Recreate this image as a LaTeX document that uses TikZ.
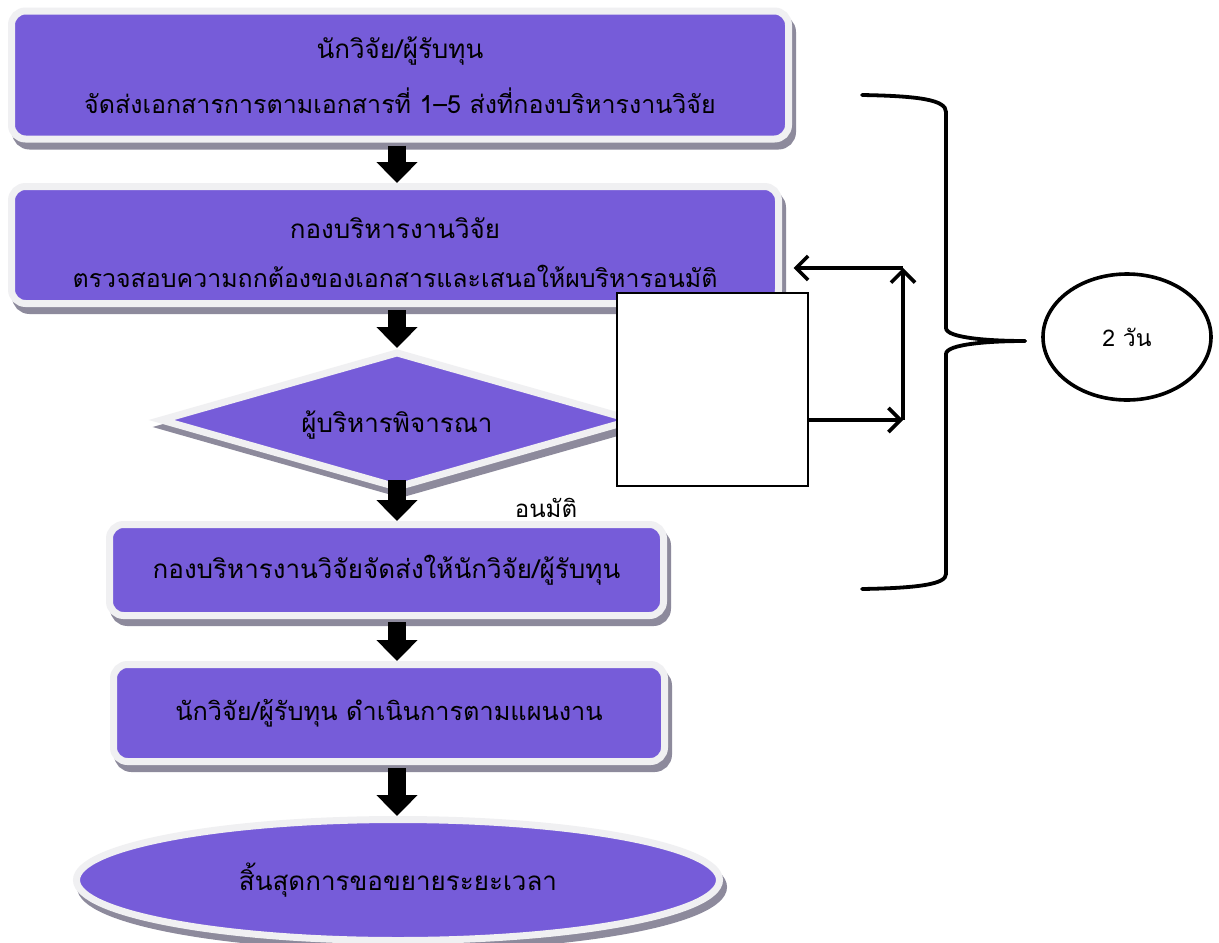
\documentclass[tikz,border=0pt]{standalone}
\usepackage{fontspec}
\newfontfamily\thaifont[Script=Thai]{Loma}
\usetikzlibrary{shapes.geometric,shadows,arrows.meta,calc}
\definecolor{vpurple}{RGB}{118,92,217}
\definecolor{vborder}{RGB}{240,240,242}
\definecolor{vshadow}{RGB}{141,138,156}
\tikzset{
  fancy/.style={fill=vpurple, draw=vborder, line width=7pt, inner sep=0pt, align=center,
    general shadow={shadow xshift=4pt, shadow yshift=-7pt, fill=vshadow, draw=vshadow, line width=7pt},
    font=\thaifont\fontsize{26}{55}\selectfont},
  fancybox/.style={fancy, rectangle, rounded corners=14pt},
  blockarrow/.style={draw=black, line width=18pt, -{Triangle[length=21pt,width=40pt]}},
  thinarrow/.style={draw=black, line width=3.6pt, -{Straight Barb[length=12pt,width=24pt,line width=3.6pt]}},
  bracestyle/.style={draw=black, line width=3.8pt, line cap=round},
  whitebox/.style={draw=black, line width=1.6pt, fill=white, rectangle, inner sep=0pt},
  plain/.style={font=\thaifont\fontsize{24}{28}\selectfont, inner sep=0pt}
}
\newcommand{\fsA}{\fontsize{25}{55}\selectfont}
\newcommand{\fsB}{\fontsize{24.9}{55}\selectfont}
\begin{document}
\begin{tikzpicture}[x=1pt,y=-1pt]
\useasboundingbox[fill=white] (0,0) rectangle (1219,943);
% flow boxes
\node[fancybox, minimum width=777pt, minimum height=128pt] (b1) at (400,75)
  {นักวิจัย/ผู้รับทุน\\{\fsA จัดส่งเอกสารการตามเอกสารที่ 1–5 ส่งที่กองบริหารงานวิจัย}};
\node[fancybox, minimum width=767pt, minimum height=117pt, align=none] (b2) at (395,245)
  {\raisebox{-13pt}[30pt][30pt]{\begin{tabular}{@{}c@{}}กองบริหารงานวิจัย\\[-6pt]{\fsB ตรวจสอบความถกต้องของเอกสารและเสนอให้ผบริหารอนมัติ}\end{tabular}}};
\node[fancy, diamond, aspect=3.4, minimum width=474pt, minimum height=137pt, align=none,
  text height=24pt, text depth=0pt] (dia) at (397,420)
  {ผู้บริหารพิจารณา};
\node[whitebox, minimum width=191pt, minimum height=193pt] (wb) at (712.5,389.5) {};
\node[fancybox, minimum width=554pt, minimum height=91pt] (b3) at (386.5,570)
  {กองบริหารงานวิจัยจัดส่งให้นักวิจัย/ผู้รับทุน};
\node[fancybox, minimum width=551pt, minimum height=97pt, font=\thaifont\fontsize{25.3}{30}\selectfont] (b4) at (389,713)
  {นักวิจัย/ผู้รับทุน ดำเนินการตามแผนงาน};
\node[fancy, ellipse, minimum width=643pt, minimum height=121pt] (end) at (398,880)
  {สิ้นสุดการขอขยายระยะเวลา};
\node[plain] (lab) at (546,508) {อนมัติ};
\node[draw=black, line width=3.6pt, ellipse, minimum width=168pt, minimum height=126pt,
  font=\thaifont\fontsize{23}{26}\selectfont] (days) at (1127,337) {2 วัน};
% block arrows
\draw[blockarrow, shorten <=3pt] (b1.south -| dia) -- (b2.north -| dia);
\draw[blockarrow, shorten <=3pt] (b2.south -| dia) -- (dia.north);
\draw[blockarrow, shorten <=-12pt] (dia.south) -- (b3.north -| dia);
\draw[blockarrow, shorten <=3pt] (b3.south -| dia) -- (b4.north -| dia);
\draw[blockarrow, shorten <=3pt] (b4.south -| dia) -- (end.north -| dia);
% loop arrows
\coordinate (c1) at (903,420);
\coordinate (c2) at (903,268);
\draw[thinarrow] (wb.east |- c1) -- (c1);
\draw[thinarrow] (c1) -- (c2);
\draw[thinarrow, shorten >=11.5pt] (c2) -- (b2.east |- c2);
% brace
\draw[bracestyle] (862,95) .. controls (920,96) and (946,100) .. (946,112) -- (946,328) .. controls (946,338) and (990,341) .. (1025,341);
\draw[bracestyle] (1025,341) .. controls (990,341) and (946,344) .. (946,354) -- (946,574) .. controls (946,584) and (920,588) .. (862,589);
\end{tikzpicture}
\end{document}
